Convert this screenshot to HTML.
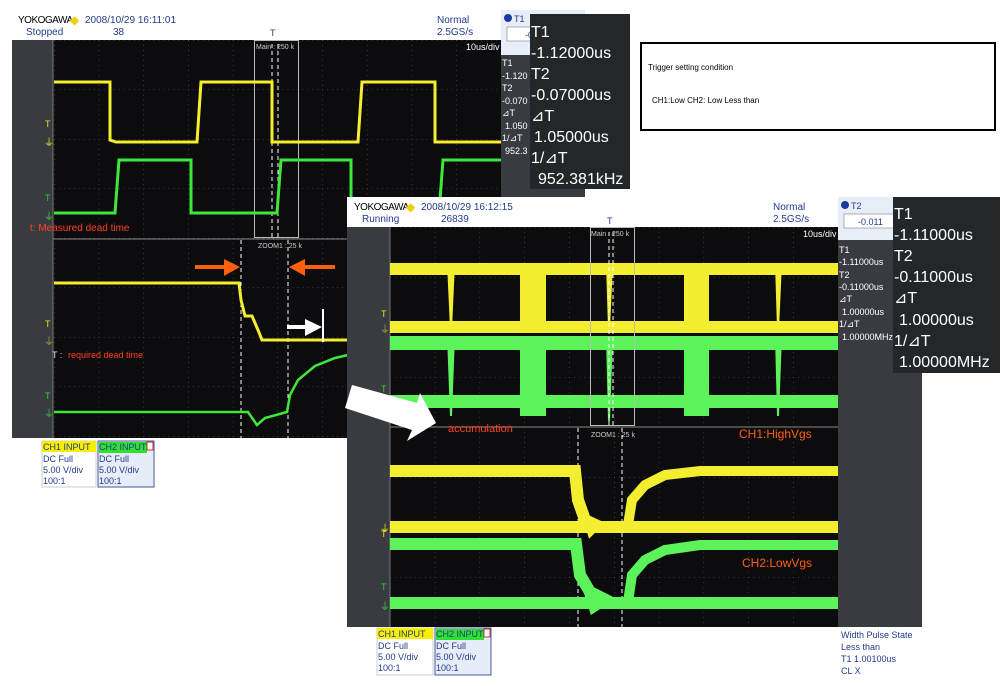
<!DOCTYPE html>
<html><head><meta charset="utf-8"><style>
html,body{margin:0;padding:0;background:#fff;}
svg{display:block;}
text{font-family:"Liberation Sans",sans-serif;}
</style></head><body>
<svg width="1006" height="686" viewBox="0 0 1006 686" xmlns="http://www.w3.org/2000/svg">
<defs>
<pattern id="g1" x="54" y="40" width="44.7" height="49.5" patternUnits="userSpaceOnUse">
<line x1="0" y1="0" x2="0" y2="49.5" stroke="#666" stroke-width="1" stroke-dasharray="1,4"/>
<line x1="0" y1="0" x2="44.7" y2="0" stroke="#666" stroke-width="1" stroke-dasharray="1,4"/>
</pattern>
<pattern id="g2" x="390" y="227" width="44.8" height="50" patternUnits="userSpaceOnUse">
<line x1="0" y1="0" x2="0" y2="50" stroke="#666" stroke-width="1" stroke-dasharray="1,4"/>
<line x1="0" y1="0" x2="44.8" y2="0" stroke="#666" stroke-width="1" stroke-dasharray="1,4"/>
</pattern>
</defs>

<!-- ============ SCREEN 1 ============ -->
<text x="18" y="23" font-size="10" fill="#000" letter-spacing="-0.5">YOKOGAWA</text>
<text x="70" y="24" font-size="12" fill="#f0d000">◆</text>
<text x="85" y="23" font-size="10" fill="#223a8c">2008/10/29 16:11:01</text>
<text x="26" y="35" font-size="10" fill="#223a8c">Stopped</text>
<text x="113" y="35" font-size="10" fill="#223a8c">38</text>
<text x="437" y="23" font-size="10" fill="#223a8c">Normal</text>
<text x="437" y="35" font-size="10" fill="#223a8c">2.5GS/s</text>
<text x="270" y="36" font-size="9" fill="#223a8c">T</text>

<rect x="12" y="40" width="573" height="398" fill="#383c40"/>
<rect x="53" y="40" width="448" height="398" fill="#0c0b0d"/>
<rect x="53" y="40" width="448" height="398" fill="url(#g1)"/>
<line x1="53" y1="239" x2="501" y2="239" stroke="#888" stroke-width="1"/>
<line x1="53" y1="40" x2="53" y2="438" stroke="#777"/>
<text x="466" y="50" font-size="9" fill="#fff">10us/div</text>
<rect x="254.5" y="40.5" width="44" height="197" fill="none" stroke="#bbb"/>
<text x="256" y="49" font-size="7" fill="#ccc">Main : 250 k</text>
<line x1="272" y1="44" x2="272" y2="238" stroke="#fff" stroke-dasharray="4,3"/>
<line x1="278" y1="44" x2="278" y2="238" stroke="#fff" stroke-dasharray="4,3"/>

<text x="45" y="127" font-size="9" fill="#f0e020">T</text>
<text x="44" y="146" font-size="10" fill="#f0e020">⏚</text>
<text x="45" y="201" font-size="9" fill="#30d030">T</text>
<text x="44" y="220" font-size="10" fill="#30d030">⏚</text>

<path d="M54,82 H110 V140 L116,142 H197 L201,82 H272 V142 H358 L362,82 H435 V142 H501" fill="none" stroke="#f4ee30" stroke-width="3"/>
<path d="M54,213 H115 L119,160 H191 V213 H277 L281,160 H351 V213 H439 L443,160 H501" fill="none" stroke="#3ee83a" stroke-width="3"/>
<text x="30" y="231" font-size="10" fill="#ff4020">t: Measured dead time</text>

<text x="258" y="248" font-size="7" fill="#ccc">ZOOM1 : 25 k</text>
<line x1="241" y1="240" x2="241" y2="438" stroke="#fff" stroke-dasharray="4,3"/>
<line x1="288" y1="240" x2="288" y2="438" stroke="#fff" stroke-dasharray="4,3"/>
<path d="M54,283 H239 L241,300 L245,316 H252 L258,330 L262,340 H348" fill="none" stroke="#f4ee30" stroke-width="3"/>
<path d="M54,412 H248 L257,425 L265,418 L287,412 L290,395 L298,380 L315,366 L335,358 L348,355" fill="none" stroke="#3ee83a" stroke-width="2.5"/>
<text x="45" y="327" font-size="9" fill="#f0e020">T</text>
<text x="44" y="345" font-size="10" fill="#b0a030">⏚</text>
<text x="45" y="399" font-size="9" fill="#30d030">T</text>
<text x="44" y="417" font-size="10" fill="#30d030">⏚</text>
<text x="52" y="358" font-size="9" fill="#ddd">T : </text>
<text x="68" y="358" font-size="9" fill="#ff4020">required dead time</text>
<path d="M195,267 H226" stroke="#ff6010" stroke-width="4"/>
<polygon points="240,267 224,259 224,276" fill="#ff6010"/>
<path d="M335,267 H303" stroke="#ff6010" stroke-width="4"/>
<polygon points="289,267 305,259 305,276" fill="#ff6010"/>
<path d="M287,327 H308" stroke="#fff" stroke-width="4"/>
<polygon points="322,327 305,319 305,336" fill="#fff"/>
<line x1="323" y1="309" x2="323" y2="342" stroke="#fff" stroke-width="2"/>

<rect x="501" y="10" width="84" height="45" fill="#e8eef8"/>
<circle cx="508" cy="18" r="4" fill="#1a3aa0"/>
<text x="514" y="22" font-size="9" fill="#223a8c">T1</text>
<rect x="507" y="27" width="30" height="14" fill="#fff" stroke="#666" stroke-width="0.5"/>
<text x="525" y="38" font-size="9" fill="#223a8c">-0</text>
<rect x="501" y="55" width="84" height="143" fill="#383c40"/>
<g font-size="9" fill="#fff">
<text x="502" y="66">T1</text><text x="502" y="79">-1.120</text>
<text x="502" y="91">T2</text><text x="502" y="104">-0.070</text>
<text x="502" y="116">⊿T</text><text x="505" y="129">1.050</text>
<text x="502" y="141">1/⊿T</text><text x="505" y="154">952.3</text>
</g>
<rect x="530" y="14" width="100" height="175" fill="#23272a"/>
<g font-size="16" fill="#fff">
<text x="531" y="37">T1</text>
<text x="531" y="58">-1.12000us</text>
<text x="531" y="79">T2</text>
<text x="531" y="100">-0.07000us</text>
<text x="531" y="121">⊿T</text>
<text x="534" y="142">1.05000us</text>
<text x="531" y="163">1/⊿T</text>
<text x="538" y="184">952.381kHz</text>
</g>

<rect x="42" y="441" width="54" height="46" fill="#fff" stroke="#ccc"/>
<rect x="42" y="441" width="54" height="11" fill="#f8f000"/>
<text x="43" y="450" font-size="9" fill="#223a8c">CH1 INPUT</text>
<g font-size="9" fill="#223a8c"><text x="43" y="462">DC Full</text><text x="43" y="473">5.00 V/div</text><text x="43" y="484">100:1</text></g>
<rect x="98" y="441" width="56" height="46" fill="#e6ecf8" stroke="#4a5a9a"/>
<rect x="99" y="442" width="48" height="11" fill="#30e030"/>
<rect x="147" y="442" width="6" height="8" fill="#fff" stroke="#c00" stroke-width="0.8"/>
<text x="99" y="450" font-size="9" fill="#223a8c">CH2 INPUT</text>
<g font-size="9" fill="#223a8c"><text x="99" y="462">DC Full</text><text x="99" y="473">5.00 V/div</text><text x="99" y="484">100:1</text></g>

<rect x="641" y="43" width="354" height="87" fill="#fff" stroke="#000" stroke-width="2"/>
<text x="648" y="70" font-size="8" fill="#000">Trigger  setting condition</text>
<text x="652" y="103" font-size="8" fill="#000">CH1:Low    CH2: Low     Less than</text>

<!-- ============ SCREEN 2 ============ -->
<rect x="347" y="197" width="575" height="30" fill="#fff"/>
<text x="354" y="210" font-size="10" fill="#000" letter-spacing="-0.5">YOKOGAWA</text>
<text x="406" y="211" font-size="12" fill="#f0d000">◆</text>
<text x="421" y="210" font-size="10" fill="#223a8c">2008/10/29 16:12:15</text>
<text x="362" y="222" font-size="10" fill="#223a8c">Running</text>
<text x="441" y="222" font-size="10" fill="#223a8c">26839</text>
<text x="773" y="210" font-size="10" fill="#223a8c">Normal</text>
<text x="773" y="222" font-size="10" fill="#223a8c">2.5GS/s</text>
<text x="607" y="224" font-size="9" fill="#223a8c">T</text>

<rect x="347" y="227" width="575" height="400" fill="#383c40"/>
<rect x="390" y="227" width="448" height="400" fill="#0c0b0d"/>
<rect x="390" y="227" width="448" height="400" fill="url(#g2)"/>
<line x1="390" y1="427" x2="838" y2="427" stroke="#888"/>
<line x1="390" y1="227" x2="390" y2="627" stroke="#777"/>
<text x="803" y="237" font-size="9" fill="#fff">10us/div</text>

<text x="381" y="317" font-size="9" fill="#f0e020">T</text>
<text x="380" y="333" font-size="10" fill="#b0a030">⏚</text>
<text x="381" y="392" font-size="9" fill="#30d030">T</text>

<g fill="#f4ee30">
<rect x="390" y="263" width="448" height="12"/>
<rect x="390" y="321" width="448" height="12"/>
<polygon points="447,263 455,263 452,329 450,329"/>
<rect x="520" y="263" width="26" height="66"/>
<polygon points="606,263 613,263 610,329 608,329"/>
<rect x="684" y="263" width="25" height="66"/>
<polygon points="775,263 782,263 779,329 777,329"/>
</g>
<g fill="#5cf25a">
<rect x="390" y="336" width="448" height="14"/>
<rect x="390" y="395" width="448" height="13"/>
<polygon points="447,336 455,336 452,416 450,416"/>
<rect x="520" y="336" width="26" height="80"/>
<polygon points="606,336 613,336 610,421 608,421"/>
<rect x="684" y="336" width="25" height="80"/>
<polygon points="775,336 782,336 779,416 777,416"/>
</g>
<rect x="590.5" y="227.5" width="44" height="198" fill="none" stroke="#bbb"/>
<text x="591" y="236" font-size="7" fill="#ccc">Main : 250 k</text>
<line x1="609" y1="232" x2="609" y2="425" stroke="#fff" stroke-dasharray="4,3"/>
<line x1="613" y1="232" x2="613" y2="425" stroke="#fff" stroke-dasharray="4,3"/>
<text x="448" y="432" font-size="11" fill="#ff4020">accumulation</text>
<text x="739" y="438" font-size="12" fill="#ff6010">CH1:HighVgs</text>
<text x="591" y="437" font-size="7" fill="#ccc">ZOOM1 : 25 k</text>

<line x1="578" y1="428" x2="578" y2="627" stroke="#fff" stroke-dasharray="4,3"/>
<line x1="622" y1="428" x2="622" y2="627" stroke="#fff" stroke-dasharray="4,3"/>
<rect x="390" y="521" width="448" height="12" fill="#f4ee30"/>
<rect x="390" y="597" width="448" height="12" fill="#5cf25a"/>
<path d="M390,471 H575 L578,500 L585,520 L600,527" fill="none" stroke="#f4ee30" stroke-width="12"/>
<path d="M578,470 L580,500 L590,535 L600,525" fill="none" stroke="#f4ee30" stroke-width="4"/>
<path d="M628,525 L632,500 L645,485 L665,475 L700,471 H838" fill="none" stroke="#f4ee30" stroke-width="10"/>
<path d="M390,544 H576 L580,575 L590,592 L610,602" fill="none" stroke="#5cf25a" stroke-width="12"/>
<path d="M580,550 L585,590 L592,612 L610,600" fill="none" stroke="#5cf25a" stroke-width="4"/>
<path d="M628,602 L632,575 L645,560 L665,550 L700,545 H838" fill="none" stroke="#5cf25a" stroke-width="10"/>
<text x="381" y="537" font-size="9" fill="#f0e020">T</text>
<text x="380" y="532" font-size="10" fill="#f0e020">⏚</text>
<text x="381" y="590" font-size="9" fill="#30d030">T</text>
<text x="380" y="610" font-size="10" fill="#30d030">⏚</text>
<text x="742" y="567" font-size="12" fill="#ff6010">CH2:LowVgs</text>

<rect x="838" y="197" width="84" height="43" fill="#e8eef8"/>
<circle cx="845" cy="205" r="4" fill="#1a3aa0"/>
<text x="851" y="209" font-size="9" fill="#223a8c">T2</text>
<rect x="844" y="214" width="50" height="14" fill="#fff" stroke="#666" stroke-width="0.5"/>
<text x="858" y="225" font-size="9" fill="#223a8c">-0.011</text>
<g font-size="9" fill="#fff">
<text x="839" y="253">T1</text><text x="839" y="265">-1.11000us</text>
<text x="839" y="278">T2</text><text x="839" y="290">-0.11000us</text>
<text x="839" y="302">⊿T</text><text x="842" y="315">1.00000us</text>
<text x="839" y="327">1/⊿T</text><text x="842" y="340">1.00000MHz</text>
</g>
<rect x="893" y="197" width="107" height="176" fill="#23272a"/>
<g font-size="16" fill="#fff">
<text x="894" y="219">T1</text>
<text x="894" y="240">-1.11000us</text>
<text x="894" y="261">T2</text>
<text x="894" y="282">-0.11000us</text>
<text x="894" y="303">⊿T</text>
<text x="899" y="325">1.00000us</text>
<text x="894" y="346">1/⊿T</text>
<text x="899" y="367">1.00000MHz</text>
</g>

<rect x="377" y="628" width="56" height="47" fill="#fff" stroke="#ccc"/>
<rect x="377" y="628" width="56" height="11" fill="#f8f000"/>
<text x="378" y="637" font-size="9" fill="#223a8c">CH1 INPUT</text>
<g font-size="9" fill="#223a8c"><text x="378" y="649">DC Full</text><text x="378" y="660">5.00 V/div</text><text x="378" y="671">100:1</text></g>
<rect x="435" y="628" width="56" height="47" fill="#e6ecf8" stroke="#4a5a9a"/>
<rect x="436" y="629" width="48" height="11" fill="#30e030"/>
<rect x="484" y="629" width="6" height="8" fill="#fff" stroke="#c00" stroke-width="0.8"/>
<text x="436" y="637" font-size="9" fill="#223a8c">CH2 INPUT</text>
<g font-size="9" fill="#223a8c"><text x="436" y="649">DC Full</text><text x="436" y="660">5.00 V/div</text><text x="436" y="671">100:1</text></g>
<g font-size="9" fill="#223a8c">
<text x="841" y="638">Width Pulse State</text>
<text x="841" y="650">Less than</text>
<text x="841" y="662">T1   1.00100us</text>
<text x="841" y="674">CL X</text>
</g>

<polygon points="352,385 417,403 420,393 436,423 407,441 412,430 345,408" fill="#fff"/>
</svg>
</body></html>
